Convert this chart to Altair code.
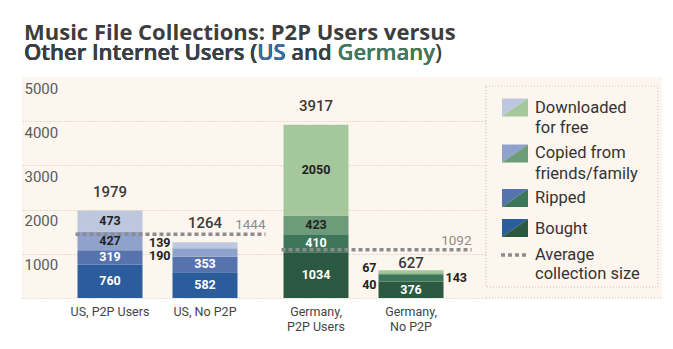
import altair as alt
import pandas as pd

# ---------------- data ----------------
categories = ["US, P2P Users", "US, No P2P", "Germany, P2P Users", "Germany, No P2P"]
countries = ["US", "US", "Germany", "Germany"]
groups = ["P2P", "No P2P", "P2P", "No P2P"]
axis_labels = ["US, P2P Users", "US, No P2P", "Germany,\nP2P Users", "Germany,\nNo P2P"]
sources = ["Bought", "Ripped", "Copied", "Downloaded"]
bought = [760, 582, 1034, 376]
ripped = [319, 353, 410, 143]
copied = [427, 190, 423, 40]
downloaded = [473, 139, 2050, 67]
totals = [1979, 1264, 3917, 627]
avg_country = ["US", "Germany"]
avg_size = [1444, 1092]
y_ticks = [0, 1000, 2000, 3000, 4000, 5000]
legend_labels = [["Downloaded", "for free"], ["Copied from", "friends/family"],
                 ["Ripped"], ["Bought"]]
avg_legend_label = ["Average", "collection size"]

# ---------------- style / layout ----------------
FONT = "Roboto"
TITLE_FONT = "Open Sans"
W_MAIN, W_LEG, H = 464, 176, 221
Y_MAX = 5000
CREAM = "#fdf6ee"
GRID = "#cbc2b8"
AVG = "#8c8c8c"
TXT = "#333333"
blues = {"Bought": "#2b5c9c", "Ripped": "#5673ae", "Copied": "#8fa2cb", "Downloaded": "#bdc8de"}
greens = {"Bought": "#2a5840", "Ripped": "#3e765a", "Copied": "#6d9c7b", "Downloaded": "#a4c79b"}
palette = {"US": blues, "Germany": greens}

# labels of small segments placed beside the bar: (side, vertical nudge in px, + = down)
OUTSIDE = {
    ("US, No P2P", "Downloaded"): ("left", -2),
    ("US, No P2P", "Copied"): ("left", 4),
    ("Germany, No P2P", "Downloaded"): ("left", -4),
    ("Germany, No P2P", "Copied"): ("left", 11),
    ("Germany, No P2P", "Ripped"): ("right", 0),
}
TOTAL_GAP = {"Germany, No P2P": 7}  # px above bar top (default 19)

# band layout
STEP, BAND = 206, 190
P_IN = (STEP - BAND) / STEP
OUT_TOTAL = W_MAIN - STEP * (2 - P_IN)
LEFT_OFF = 40.5
x_scale = alt.Scale(domain=["US", "Germany"], paddingInner=P_IN,
                    paddingOuter=OUT_TOTAL / (2 * STEP), align=LEFT_OFF / OUT_TOTAL)
xo_scale = alt.Scale(domain=["P2P", "No P2P"], paddingInner=30 / 95, paddingOuter=15 / 95)
y_scale = alt.Scale(domain=[0, Y_MAX], nice=False)

src_vals = {"Bought": bought, "Ripped": ripped, "Copied": copied, "Downloaded": downloaded}
rows = []
for i, cat in enumerate(categories):
    for j, src in enumerate(sources):
        side, nudge = OUTSIDE.get((cat, src), ("in", 0))
        rows.append(dict(cat=cat, country=countries[i], group=groups[i], source=src,
                         order=j, value=src_vals[src][i], key=f"{countries[i]}|{src}",
                         side=side, nudge=nudge))
seg = pd.DataFrame(rows)

color_keys = [f"{c}|{s}" for c in ["US", "Germany"] for s in sources]
color_range = [palette[c][s] for c in ["US", "Germany"] for s in sources]

tot = pd.DataFrame(dict(cat=categories, country=countries, group=groups, total=totals,
                        gap=[TOTAL_GAP.get(c, 19) for c in categories]))
cats = pd.DataFrame(dict(country=countries, group=groups, label=axis_labels))
one = pd.DataFrame({"a": [0]})

X = alt.X("country:N", scale=x_scale, axis=None)
XO = alt.XOffset("group:N", scale=xo_scale)

y_axis = alt.Axis(values=y_ticks, format="d", title=None, ticks=False, domain=False,
                  grid=True, gridColor=GRID, gridDash=[1, 2], gridWidth=1,
                  gridOpacity={"condition": {"test": "datum.value === 5000", "value": 0}, "value": 1},
                  labelAlign="left", labelBaseline="top", labelPadding=-2, labelOffset=4,
                  labelFont=FONT, labelFontSize=15, labelColor="#5a5a5a",
                  labelExpr="datum.value === 0 ? '' : datum.label")

base = (alt.Chart(seg)
        .transform_stack(stack="value", groupby=["cat"], as_=["y0", "y1"],
                         sort=[alt.SortField("order", order="ascending")])
        .transform_calculate(mid=f"(datum.y0 + datum.y1) / 2 - datum.nudge * {Y_MAX} / {H}",
                             tcol="datum.order < 2 && datum.side === 'in' ? 'white' : '#222222'"))

bars = base.mark_bar().encode(
    x=X, xOffset=XO,
    y=alt.Y("y0:Q", scale=y_scale, axis=y_axis), y2="y1:Q",
    color=alt.Color("key:N", scale=alt.Scale(domain=color_keys, range=color_range), legend=None))

seg_text = dict(font=FONT, fontWeight="bold", fontSize=12.5, baseline="middle")
inside = base.transform_filter("datum.side === 'in'").mark_text(**seg_text).encode(
    x=X, xOffset=XO, y=alt.Y("mid:Q"), text="value:Q", color=alt.Color("tcol:N", scale=None))
left = base.transform_filter("datum.side === 'left'").mark_text(
    align="right", dx=-34.5, **seg_text).encode(
    x=X, xOffset=XO, y=alt.Y("mid:Q"), text="value:Q", color=alt.value("#222222"))
right = base.transform_filter("datum.side === 'right'").mark_text(
    align="left", dx=34.5, **seg_text).encode(
    x=X, xOffset=XO, y=alt.Y("mid:Q"), text="value:Q", color=alt.value("#222222"))

totals_txt = (alt.Chart(tot)
              .transform_calculate(ty=f"datum.total + datum.gap * {Y_MAX} / {H}")
              .mark_text(font=FONT, fontWeight=500, fontSize=15, baseline="middle", color="#3a3a3a")
              .encode(x=X, xOffset=XO, y=alt.Y("ty:Q"), text="total:Q"))

avg_layers = []
for i, (c, v) in enumerate(zip(avg_country, avg_size)):
    x0 = LEFT_OFF + i * STEP + 13
    x1 = x0 + BAND
    avg_layers.append(alt.Chart(one).mark_rule(color=AVG, strokeWidth=3.5, strokeDash=[4, 3]).encode(
        x=alt.value(x0), x2=alt.value(x1), y=alt.datum(v)))
    avg_layers.append(alt.Chart(one).mark_text(font=FONT, fontSize=13.5, color=AVG, align="right",
                                               baseline="middle", dy=-9, text=str(v)).encode(
        x=alt.value(x1), y=alt.datum(v)))

cat_txt = alt.Chart(cats).mark_text(font=FONT, fontSize=12.5, color="#444444", baseline="top",
                                    lineBreak="\n", lineHeight=14.5).encode(
    x=X, xOffset=XO, y=alt.value(H + 8), text="label:N")

# title (second line with coloured words, built from stacked prefixes)
TITLE_GREY = "#3d3d3d"
l2 = "Other Internet Users (US and Germany)"
title_parts = [
    ("Music File Collections: P2P Users versus", TITLE_GREY, -37, 700),
    (l2, TITLE_GREY, -17, 600),
    ("Other Internet Users (US and Germany", "#3e7a5b", -17, 600),
    ("Other Internet Users (US and", TITLE_GREY, -17, 600),
    ("Other Internet Users (US", "#3b6ea8", -17, 600),
    ("Other Internet Users (", TITLE_GREY, -17, 600),
]
title_layers = [alt.Chart(one).mark_text(font=TITLE_FONT, fontWeight=w, fontSize=22, color=col,
                                         align="left", baseline="alphabetic", text=t).encode(
    x=alt.value(2), y=alt.value(yy)) for t, col, yy, w in title_parts]

main = alt.layer(bars, inside, left, right, totals_txt, *avg_layers, cat_txt,
                 *title_layers).properties(width=W_MAIN, height=H)

# ---------------- legend panel ----------------
SW = 0.6923
UL = f"M-1,-{SW}L1,-{SW}L-1,{SW}Z"
LR = f"M1,-{SW}L1,{SW}L-1,{SW}Z"
sw_y = [30.5, 76.5, 121, 151]
leg_src = ["Downloaded", "Copied", "Ripped", "Bought"]
sw = pd.DataFrame(dict(y=sw_y, blue=[blues[s] for s in leg_src], green=[greens[s] for s in leg_src]))
text_y = [[31, 51], [76, 97], [121], [152]]
avg_text_y = [178, 197]
lt_rows = []
for lines, ys in zip(legend_labels + [avg_legend_label], text_y + [avg_text_y]):
    for t, yy in zip(lines, ys):
        lt_rows.append(dict(text=t, y=yy))
lt = pd.DataFrame(lt_rows)

border = alt.Chart(one).mark_rect(fill="transparent", stroke=GRID, strokeWidth=1.2,
                                  strokeDash=[1, 2]).encode(
    x=alt.value(0), x2=alt.value(172), y=alt.value(9), y2=alt.value(210))
baseline = alt.Chart(one).mark_rule(color=GRID, strokeDash=[1, 2]).encode(
    x=alt.value(0), x2=alt.value(W_LEG), y=alt.value(H))
blue_tri = alt.Chart(sw).mark_point(shape=UL, size=676, filled=True, opacity=1, strokeWidth=0).encode(
    x=alt.value(29), y=alt.Y("y:Q", scale=None), color=alt.Color("blue:N", scale=None))
green_tri = alt.Chart(sw).mark_point(shape=LR, size=676, filled=True, opacity=1, strokeWidth=0).encode(
    x=alt.value(29), y=alt.Y("y:Q", scale=None), color=alt.Color("green:N", scale=None))
avg_sym = alt.Chart(one).mark_rule(color=AVG, strokeWidth=3.5, strokeDash=[4, 3]).encode(
    x=alt.value(15), x2=alt.value(42), y=alt.value(avg_text_y[0]))
leg_text = alt.Chart(lt).mark_text(font=FONT, fontSize=16.5, color=TXT, align="left",
                                   baseline="middle").encode(
    x=alt.value(49), y=alt.Y("y:Q", scale=None), text="text:N")

legend = alt.layer(border, baseline, blue_tri, green_tri, avg_sym, leg_text).properties(
    width=W_LEG, height=H)

chart = (alt.hconcat(main, legend, spacing=0, bounds="flush")
         .properties(padding={"left": 22, "top": 22, "right": 5, "bottom": 5}, background="white")
         .configure_view(fill=CREAM, strokeWidth=0))

chart.save("out.html", embed_options={"renderer": "svg", "actions": False})
